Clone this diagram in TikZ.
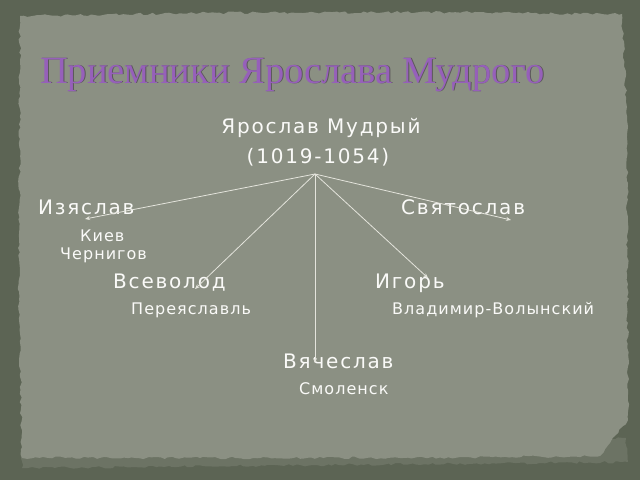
\documentclass[tikz,border=0pt]{standalone}
\usepackage{fontspec}
\setmainfont{DejaVu Sans}
\newfontfamily\titlefont{Liberation Serif}
\newfontfamily\bigfont[LetterSpace=9]{DejaVu Sans}
\newfontfamily\cityfont[LetterSpace=6.5]{DejaVu Sans}
\usetikzlibrary{arrows.meta,decorations.pathmorphing}
\definecolor{outerbg}{RGB}{92,100,84}
\definecolor{panelbg}{RGB}{139,144,131}
\definecolor{panelband}{RGB}{108,115,100}
\definecolor{titlecol}{RGB}{150,96,186}
\definecolor{titleshadow}{RGB}{70,64,72}
\definecolor{txt}{RGB}{250,250,248}
\definecolor{linecol}{RGB}{228,228,220}
\begin{document}
\begin{tikzpicture}[x=1pt,y=-1pt,
  bigname/.style={text=txt,inner sep=0pt,anchor=base west,font=\bigfont\fontsize{20}{24}\selectfont},
  city/.style={text=txt,inner sep=0pt,anchor=base west,font=\cityfont\fontsize{16}{19}\selectfont},
  titletext/.style={inner sep=0pt,anchor=base west,font=\titlefont\fontsize{38.5}{44}\selectfont},
  link/.style={draw=linecol,line width=0.8pt,-{Stealth[length=5pt,width=4pt]}},
  roughedge/.style={decorate,decoration={random steps,segment length=4pt,amplitude=1.3pt}}]
\pgfmathsetseed{7}
\useasboundingbox (0,0) rectangle (640,480);
\fill[outerbg] (0,0) rectangle (640,480);
% lower band
\fill[panelband,roughedge] (22,440) -- (626,438) -- (628,462) -- (22,468) -- cycle;
% panel
\fill[panelbg,roughedge] (20,16) -- (200,13) -- (420,12) -- (622,14) -- (627,120) -- (628,420) -- (600,456) -- (400,458) -- (200,458) -- (22,458) -- (19,300) -- cycle;
% title
\node[titletext,text=titleshadow,opacity=0.7] at (40.9,83.9) {Приемники Ярослава Мудрого};
\node[titletext,text=titlecol] (title) at (40,83) {Приемники Ярослава Мудрого};
% root
\node[text=txt,inner sep=0pt,anchor=base,font=\bigfont\fontsize{20}{24}\selectfont] (root) at (321,133) {Ярослав Мудрый};
\node[text=txt,inner sep=0pt,anchor=base,font=\bigfont\fontsize{20}{24}\selectfont] (years) at (318,163) {(1019-1054)};
% sons
\node[bigname] (iz) at (38,214) {Изяслав};
\node[city] (kiev) at (80,241) {Киев};
\node[city] (chern) at (60,259) {Чернигов};
\node[bigname] (sv) at (401,214) {Святослав};
\node[bigname] (vs) at (113,288) {Всеволод};
\node[city] (per) at (131,314) {Переяславль};
\node[bigname] (ig) at (375,288) {Игорь};
\node[city] (vlad) at (392,314) {Владимир-Волынский};
\node[bigname] (vya) at (283,368) {Вячеслав};
\node[city] (smol) at (299,394) {Смоленск};
% connectors
\coordinate (o) at (315,174);
\coordinate (tiz) at (85,219);
\coordinate (tsv) at (511,220);
\coordinate (tvs) at (195,289);
\coordinate (tig) at (428,278);
\coordinate (tvya) at (315,363);
\draw[link] (o) -- (tiz);
\draw[link] (o) -- (tsv);
\draw[link] (o) -- (tvs);
\draw[link] (o) -- (tig);
\draw[link] (o) -- (tvya);
\end{tikzpicture}
\end{document}
